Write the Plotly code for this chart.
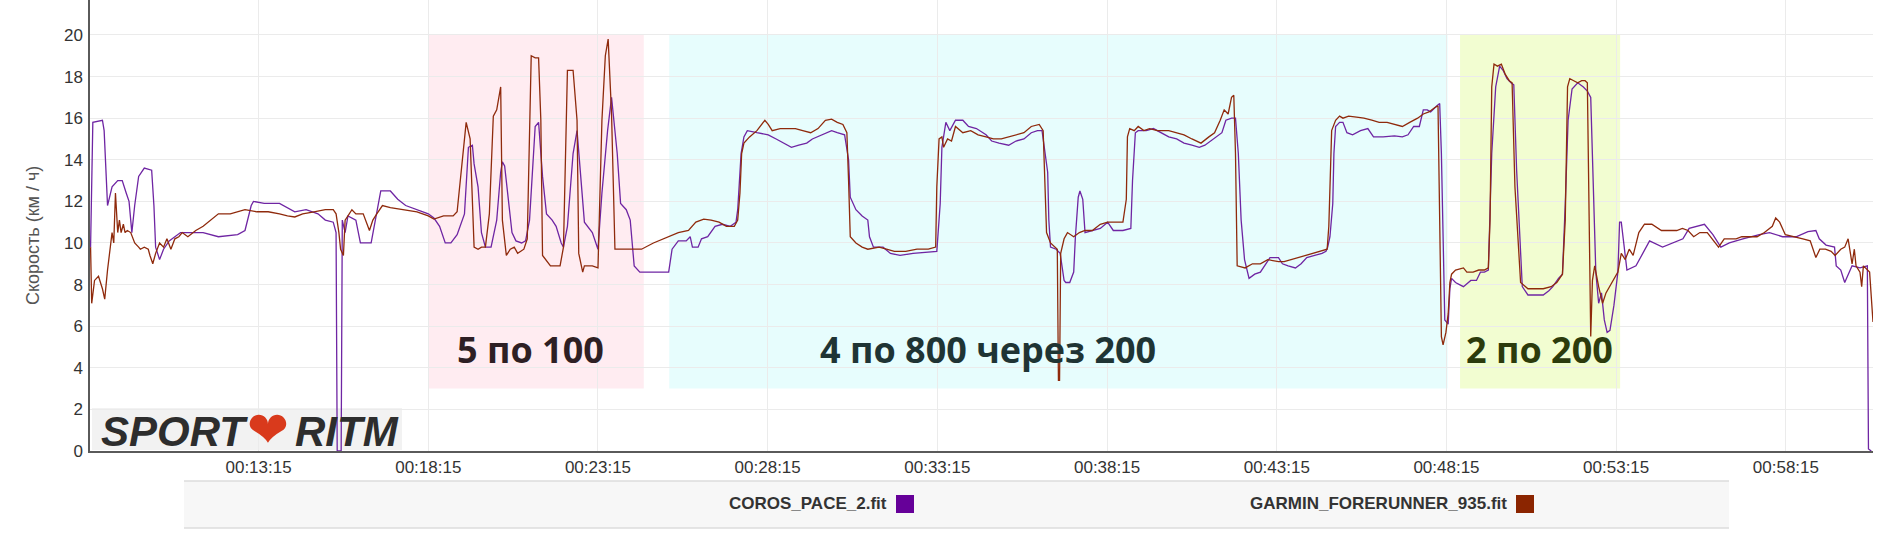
import plotly.graph_objects as go

# ---------------- data ----------------
# time in seconds from start of the workout, speed in km/h
coros_t = [498, 502, 519, 522, 528, 536, 546, 554, 561, 566, 571, 576, 583, 593, 606, 610, 613, 620, 627, 637,
           657, 677, 697, 724, 758, 771, 782, 786, 805, 832, 859, 879, 900, 913, 927, 932, 934, 941, 943, 948,
           953, 967, 975, 994, 1002, 1011, 1028, 1034, 1041, 1055, 1075, 1095, 1105, 1115, 1125, 1135, 1146, 1159, 1166, 1173,
           1176, 1183, 1189, 1196, 1206, 1216, 1223, 1226, 1230, 1237, 1243, 1250, 1260, 1267, 1274, 1284, 1290, 1297, 1304, 1314,
           1321, 1330, 1334, 1341, 1351, 1358, 1365, 1371, 1385, 1395, 1402, 1412, 1419, 1429, 1435, 1445, 1452, 1459, 1469, 1489,
           1520, 1526, 1537, 1551, 1558, 1562, 1572, 1578, 1589, 1602, 1615, 1629, 1639, 1642, 1648, 1653, 1659, 1676, 1696, 1710,
           1723, 1737, 1750, 1764, 1774, 1791, 1808, 1818, 1831, 1838, 1841, 1851, 1862, 1872, 1875, 1882, 1899, 1912, 1929, 1952,
           1979, 1994, 2000, 2003, 2010, 2017, 2027, 2040, 2050, 2064, 2081, 2091, 2104, 2121, 2134, 2148, 2161, 2172, 2180, 2185,
           2190, 2192, 2195, 2205, 2212, 2219, 2222, 2229, 2236, 2239, 2244, 2247, 2252, 2256, 2269, 2283, 2296, 2306, 2323, 2337,
           2340, 2345, 2350, 2364, 2377, 2391, 2404, 2418, 2431, 2445, 2458, 2468, 2478, 2488, 2498, 2505, 2515, 2522, 2527, 2532,
           2538, 2546, 2556, 2566, 2576, 2583, 2598, 2605, 2615, 2628, 2638, 2648, 2662, 2675, 2682, 2685, 2689, 2694, 2696, 2699,
           2706, 2712, 2719, 2729, 2743, 2756, 2766, 2783, 2803, 2817, 2827, 2837, 2847, 2851, 2854, 2861, 2867, 2878, 2883, 2886,
           2889, 2892, 2898, 2901, 2904, 2911, 2918, 2925, 2938, 2948, 2955, 2962, 2969, 2975, 2982, 2989, 2995, 3002, 3009, 3014,
           3019, 3029, 3039, 3053, 3066, 3076, 3083, 3093, 3100, 3105, 3110, 3117, 3127, 3137, 3144, 3150, 3154, 3159, 3164, 3169,
           3174, 3179, 3184, 3191, 3198, 3201, 3204, 3209, 3214, 3230, 3254, 3277, 3296, 3313, 3324, 3351, 3366, 3380, 3395, 3419,
           3448, 3466, 3489, 3513, 3534, 3548, 3554, 3566, 3581, 3584, 3592, 3599, 3612, 3626, 3639, 3641, 3646]
coros_v = [9.8, 15.8, 15.9, 15.4, 11.8, 12.7, 13.0, 13.0, 12.4, 12.0, 10.5, 11.8, 13.2, 13.6, 13.5, 11.8, 9.8, 9.2, 9.7, 10.1,
           10.5, 10.5, 10.5, 10.3, 10.4, 10.6, 11.8, 12.0, 11.9, 11.9, 11.5, 11.6, 11.4, 11.1, 11.0, 10.5, 0.0, 0.0, 11.1, 10.5,
           11.3, 11.1, 10.0, 10.0, 11.1, 12.5, 12.5, 12.3, 12.1, 11.8, 11.6, 11.4, 11.2, 10.8, 10.0, 10.0, 10.4, 11.4, 14.6, 14.7,
           13.8, 12.7, 10.5, 9.8, 9.8, 11.1, 13.4, 13.9, 13.7, 12.1, 10.5, 10.1, 10.0, 10.1, 11.1, 15.6, 15.8, 13.2, 11.4, 11.1,
           10.8, 10.0, 9.8, 10.8, 14.3, 15.4, 13.0, 11.0, 10.5, 9.7, 12.4, 15.4, 17.0, 14.3, 11.9, 11.6, 11.1, 8.9, 8.6, 8.6,
           8.6, 9.7, 10.1, 10.1, 10.3, 9.8, 9.8, 10.2, 10.3, 10.8, 10.9, 10.8, 11.0, 11.6, 14.3, 15.1, 15.4, 15.3, 15.2, 15.0,
           14.8, 14.6, 14.7, 14.8, 15.0, 15.2, 15.4, 15.3, 15.2, 14.0, 12.2, 11.6, 11.3, 11.1, 10.3, 9.8, 9.8, 9.5, 9.4, 9.5,
           9.55, 9.6, 11.9, 14.6, 15.8, 15.4, 15.9, 15.9, 15.6, 15.5, 15.2, 14.9, 14.8, 14.7, 14.9, 15.0, 15.3, 15.4, 15.4, 14.3,
           13.4, 11.1, 9.8, 9.7, 9.5, 8.2, 8.1, 8.1, 8.6, 10.3, 12.2, 12.5, 12.1, 10.5, 10.6, 10.7, 11.0, 10.6, 10.6, 10.7,
           13.0, 15.3, 15.4, 15.4, 15.5, 15.3, 15.1, 15.0, 14.8, 14.7, 14.6, 14.7, 14.9, 15.1, 15.3, 15.9, 16.0, 16.0, 14.3, 11.1,
           9.2, 8.3, 8.5, 8.6, 9.0, 9.3, 9.3, 9.0, 8.9, 8.8, 9.0, 9.3, 9.4, 9.5, 9.6, 9.8, 10.3, 11.9, 14.3, 15.6,
           15.8, 15.8, 15.3, 15.2, 15.4, 15.5, 15.1, 15.1, 15.15, 15.1, 15.2, 15.6, 15.6, 16.1, 16.4, 16.4, 16.3, 16.6, 16.7, 14.3,
           9.5, 6.3, 6.1, 7.8, 8.3, 8.1, 8.0, 7.9, 8.2, 8.2, 8.6, 8.6, 8.7, 14.3, 17.5, 18.5, 18.3, 17.9, 17.7, 17.6,
           13.5, 7.9, 7.5, 7.5, 7.5, 7.7, 7.9, 8.3, 8.5, 11.9, 15.9, 17.4, 17.7, 17.5, 17.3, 17.0, 12.7, 8.6, 7.1, 7.6,
           6.3, 5.7, 5.8, 7.0, 8.6, 11.0, 11.0, 9.8, 8.7, 8.9, 10.1, 9.8, 10.0, 10.2, 10.7, 10.9, 10.4, 9.8, 10.0, 10.2,
           10.4, 10.5, 10.3, 10.3, 10.55, 10.6, 10.2, 9.9, 9.8, 8.9, 8.7, 8.1, 8.9, 8.8, 8.9, 0.1, 0.0]

garmin_t = [498, 500, 505, 512, 519, 523, 528, 532, 536, 539, 542, 546, 549, 552, 556, 559, 563, 569, 576, 583,
            586, 593, 600, 603, 608, 613, 620, 627, 633, 640, 647, 654, 660, 670, 684, 697, 711, 724, 745, 758,
            771, 792, 812, 832, 846, 859, 873, 893, 913, 927, 932, 937, 940, 945, 948, 953, 960, 967, 980, 991,
            997, 1004, 1014, 1028, 1055, 1075, 1095, 1105, 1122, 1139, 1146, 1152, 1162, 1169, 1173, 1176, 1183, 1189, 1196, 1203,
            1210, 1216, 1223, 1226, 1233, 1240, 1247, 1253, 1264, 1270, 1277, 1284, 1290, 1294, 1297, 1311, 1328, 1334, 1341, 1351,
            1358, 1361, 1368, 1371, 1385, 1395, 1402, 1408, 1413, 1419, 1425, 1439, 1466, 1472, 1493, 1520, 1537, 1555, 1568, 1582,
            1595, 1609, 1622, 1636, 1642, 1646, 1649, 1653, 1663, 1676, 1686, 1690, 1696, 1703, 1717, 1730, 1744, 1757, 1771, 1784,
            1797, 1808, 1818, 1828, 1835, 1838, 1841, 1851, 1862, 1872, 1892, 1905, 1919, 1939, 1959, 1979, 1992, 1994, 1998, 2003,
            2006, 2013, 2020, 2027, 2040, 2054, 2067, 2081, 2094, 2108, 2121, 2134, 2148, 2161, 2175, 2182, 2185, 2188, 2195, 2202,
            2207, 2209, 2211, 2213, 2219, 2225, 2236, 2246, 2256, 2269, 2283, 2296, 2310, 2323, 2329, 2331, 2335, 2343, 2350, 2360,
            2370, 2384, 2404, 2418, 2431, 2445, 2461, 2475, 2485, 2495, 2502, 2509, 2515, 2519, 2522, 2525, 2539, 2552, 2566, 2579,
            2598, 2608, 2621, 2635, 2648, 2662, 2675, 2684, 2687, 2692, 2699, 2706, 2712, 2722, 2736, 2749, 2763, 2776, 2790, 2803,
            2817, 2830, 2844, 2854, 2864, 2874, 2880, 2883, 2886, 2889, 2894, 2898, 2901, 2904, 2911, 2925, 2931, 2942, 2952, 2962,
            2969, 2972, 2975, 2979, 2985, 2992, 2999, 3006, 3011, 3016, 3026, 3039, 3053, 3066, 3080, 3090, 3100, 3105, 3109, 3113,
            3120, 3127, 3134, 3140, 3144, 3147, 3150, 3153, 3157, 3164, 3171, 3177, 3188, 3198, 3204, 3211, 3218, 3225, 3235, 3245,
            3258, 3275, 3289, 3302, 3312, 3322, 3332, 3343, 3356, 3376, 3386, 3397, 3407, 3417, 3430, 3444, 3457, 3471, 3477, 3484,
            3494, 3511, 3525, 3538, 3545, 3548, 3555, 3565, 3575, 3582, 3592, 3599, 3605, 3609, 3612, 3616, 3619, 3626, 3629, 3632,
            3636, 3643, 3649]
garmin_v = [9.8, 7.1, 8.2, 8.4, 7.8, 7.3, 8.7, 9.5, 10.5, 10.0, 12.4, 10.5, 11.1, 10.5, 10.9, 10.5, 10.6, 10.5, 10.0, 9.8,
            9.7, 9.8, 9.7, 9.4, 9.0, 9.5, 10.0, 9.8, 10.2, 9.7, 10.2, 10.3, 10.5, 10.3, 10.6, 10.8, 11.1, 11.4, 11.4, 11.5,
            11.6, 11.5, 11.5, 11.4, 11.3, 11.25, 11.4, 11.5, 11.6, 11.6, 11.4, 10.5, 9.7, 9.4, 11.1, 11.3, 11.6, 11.4, 11.4, 10.6,
            11.1, 11.4, 11.8, 11.7, 11.6, 11.5, 11.3, 11.15, 11.3, 11.3, 11.5, 13.2, 15.8, 15.0, 12.4, 9.8, 9.7, 9.8, 9.8, 11.4,
            16.1, 16.4, 17.5, 11.1, 9.4, 9.7, 9.8, 9.5, 9.7, 10.2, 19.0, 18.9, 18.9, 15.9, 9.4, 8.9, 8.9, 9.8, 18.3, 18.3,
            15.9, 9.5, 8.6, 8.9, 8.9, 8.8, 15.9, 19.0, 19.8, 16.2, 9.7, 9.7, 9.7, 9.7, 10.0, 10.3, 10.5, 10.6, 11.0, 11.15,
            11.1, 11.0, 10.8, 10.8, 11.1, 12.4, 14.3, 14.8, 15.1, 15.4, 15.8, 15.9, 15.7, 15.4, 15.5, 15.5, 15.5, 15.4, 15.3, 15.5,
            15.9, 15.95, 15.8, 15.7, 15.3, 13.0, 10.3, 10.0, 9.8, 9.7, 9.8, 9.7, 9.6, 9.6, 9.7, 9.7, 9.8, 12.7, 15.0, 15.1,
            14.6, 15.0, 14.9, 15.6, 15.3, 15.4, 15.2, 15.1, 15.0, 15.0, 15.1, 15.2, 15.3, 15.6, 15.7, 15.4, 13.0, 10.5, 10.0, 9.8,
            9.7, 3.4, 3.4, 9.5, 10.2, 10.5, 10.3, 10.5, 10.6, 10.6, 10.9, 11.0, 11.0, 11.0, 12.1, 15.1, 15.5, 15.4, 15.6, 15.4,
            15.5, 15.4, 15.4, 15.3, 15.2, 15.0, 14.8, 15.1, 15.3, 15.9, 16.4, 16.2, 17.0, 17.1, 14.3, 8.9, 8.8, 9.0, 9.0, 9.2,
            9.1, 9.1, 9.2, 9.3, 9.4, 9.5, 9.6, 9.7, 10.8, 15.4, 15.9, 16.1, 16.0, 16.1, 16.05, 16.0, 15.9, 15.8, 15.8, 15.7,
            15.6, 15.8, 16.0, 16.2, 16.3, 16.5, 16.6, 11.1, 5.5, 5.1, 5.7, 6.6, 8.1, 8.5, 8.7, 8.8, 8.6, 8.6, 8.7, 8.7,
            8.8, 11.1, 17.5, 18.6, 18.5, 18.6, 18.1, 17.8, 17.7, 12.7, 8.1, 7.8, 7.8, 7.8, 7.9, 8.1, 8.5, 11.1, 17.5, 17.9,
            17.8, 17.7, 17.8, 17.8, 17.7, 11.1, 5.5, 8.2, 8.9, 7.9, 7.1, 7.6, 8.1, 8.6, 9.5, 9.2, 9.7, 9.4, 10.5, 10.9,
            10.9, 10.6, 10.6, 10.6, 10.7, 10.6, 10.3, 10.5, 10.5, 9.8, 10.2, 10.2, 10.2, 10.3, 10.3, 10.3, 10.5, 10.8, 11.2, 11.0,
            10.4, 10.3, 10.2, 10.1, 9.5, 9.3, 9.7, 9.7, 9.6, 9.4, 9.7, 9.8, 10.2, 9.5, 9.0, 9.7, 8.9, 8.6, 7.9, 8.9,
            8.8, 8.6, 6.2]

series_names = ["COROS_PACE_2.fit", "GARMIN_FORERUNNER_935.fit"]
series_colors = ["#6f25a3", "#8f2a0c"]
legend_colors = ["#660099", "#8b2500"]

tick_labels = ["00:13:15", "00:18:15", "00:23:15", "00:28:15", "00:33:15",
               "00:38:15", "00:43:15", "00:48:15", "00:53:15", "00:58:15"]

# workout segments: start / end (s), label, label x (s)
seg_start = [1095, 1521, 2919]
seg_end = [1476, 2897, 3202]
seg_label = ["5 по 100", "4 по 800 через 200", "2 по 200"]
seg_label_x = [1276, 2084, 3060]
seg_fill = ["#ffecf1", "#e7fdfd", "#f2fdd1"]
seg_text_color = ["#2e1f24", "#1f3434", "#2c3b0c"]
seg_y_low, seg_y_high, seg_label_y = 3, 20, 4.9

x_range = [497, 3649]
y_range = [0, 21.68]


def to_sec(s):
    h, m, sec = (int(p) for p in s.split(":"))
    return h * 3600 + m * 60 + sec


tick_vals = [to_sec(s) for s in tick_labels]

# ---------------- figure ----------------
fig = go.Figure()
for name, t, v, c in zip(series_names, [coros_t, garmin_t], [coros_v, garmin_v], series_colors):
    fig.add_trace(go.Scatter(x=t, y=v, mode="lines", name=name,
                             line=dict(color=c, width=1.3), showlegend=False))

shapes = []
annotations = []
for s0, s1, fc in zip(seg_start, seg_end, seg_fill):
    shapes.append(dict(type="rect", xref="x", yref="y", x0=s0, x1=s1, y0=seg_y_low, y1=seg_y_high,
                       fillcolor=fc, line=dict(width=0), layer="below"))
for lab, lx, tc in zip(seg_label, seg_label_x, seg_text_color):
    annotations.append(dict(x=lx, y=seg_label_y, xref="x", yref="y", text="<b>" + lab + "</b>",
                            showarrow=False, xanchor="center", yanchor="middle",
                            font=dict(family="Open Sans, Noto Sans, sans-serif", size=36, color=tc)))

# plot geometry (pixels) for paper-anchored decorations
L, R, T, B, W, H = 90, 9, 0, 89, 1882, 540
PW, PH = W - L - R, H - T - B


def px(xp):
    return (xp - L) / PW


def py(yp):
    return (H - B - yp) / PH


# y-axis title
annotations.append(dict(x=px(33), y=py(236), xref="paper", yref="paper", text="Скорость (км / ч)",
                        textangle=-90, showarrow=False, xanchor="center", yanchor="middle",
                        font=dict(family="Liberation Sans, Arial, sans-serif", size=18, color="#555555")))

# logo
shapes.append(dict(type="rect", xref="paper", yref="paper", x0=px(92), x1=px(402), y0=py(450), y1=py(408),
                   fillcolor="#f2f2f2", line=dict(width=0), layer="below"))
annotations.append(dict(x=px(99), y=py(431), xref="paper", yref="paper", text="<b><i>SPORT</i></b>",
                        showarrow=False, xanchor="left", yanchor="middle",
                        font=dict(family="Liberation Sans, Arial, sans-serif", size=42, color="#2d2d2d")))
annotations.append(dict(x=px(268), y=py(430), xref="paper", yref="paper", text="❤",
                        showarrow=False, xanchor="center", yanchor="middle",
                        font=dict(family="DejaVu Sans, sans-serif", size=50, color="#d93a1c")))
annotations.append(dict(x=px(293), y=py(431), xref="paper", yref="paper", text="<b><i>RITM</i></b>",
                        showarrow=False, xanchor="left", yanchor="middle",
                        font=dict(family="Liberation Sans, Arial, sans-serif", size=42, color="#2d2d2d")))

# legend band
shapes.append(dict(type="rect", xref="paper", yref="paper", x0=px(184), x1=px(1729), y0=py(528), y1=py(481),
                   fillcolor="#f7f7f7", line=dict(width=0)))
for yy in (481, 528):
    shapes.append(dict(type="line", xref="paper", yref="paper", x0=px(184), x1=px(1729), y0=py(yy), y1=py(yy),
                       line=dict(color="#dcdcdc", width=1.5)))
legend_text_right = [889, 1509]
legend_sq_left = [896, 1516]
for name, tr, sq, lc in zip(series_names, legend_text_right, legend_sq_left, legend_colors):
    annotations.append(dict(x=px(tr), y=py(504), xref="paper", yref="paper", text="<b>" + name + "</b>",
                            showarrow=False, xanchor="right", yanchor="middle",
                            font=dict(family="Liberation Sans, Arial, sans-serif", size=17, color="#333333")))
    shapes.append(dict(type="rect", xref="paper", yref="paper", x0=px(sq), x1=px(sq + 18),
                       y0=py(513), y1=py(495), fillcolor=lc, line=dict(width=0)))

fig.update_layout(
    width=W, height=H,
    margin=dict(l=L, r=R, t=T, b=B),
    plot_bgcolor="white", paper_bgcolor="white",
    shapes=shapes, annotations=annotations,
    showlegend=False,
    xaxis=dict(range=x_range, tickvals=tick_vals, ticktext=tick_labels,
               showgrid=True, gridcolor="#ebebeb", gridwidth=1, zeroline=False,
               showline=True, linecolor="#5a5a5a", linewidth=1.5,
               ticks="",
               tickfont=dict(family="Liberation Sans, Arial, sans-serif", size=17, color="#333333")),
    yaxis=dict(range=y_range, tick0=0, dtick=2,
               showgrid=True, gridcolor="#ebebeb", gridwidth=1, zeroline=False,
               showline=True, linecolor="#5a5a5a", linewidth=1.5,
               ticks="outside", ticklen=2, tickcolor="rgba(0,0,0,0)",
               tickfont=dict(family="Liberation Sans, Arial, sans-serif", size=17, color="#333333")),
)

fig.write_html("out.html", config={"displayModeBar": False},
               post_script="document.body.style.margin='0';document.body.style.overflow='hidden';")
